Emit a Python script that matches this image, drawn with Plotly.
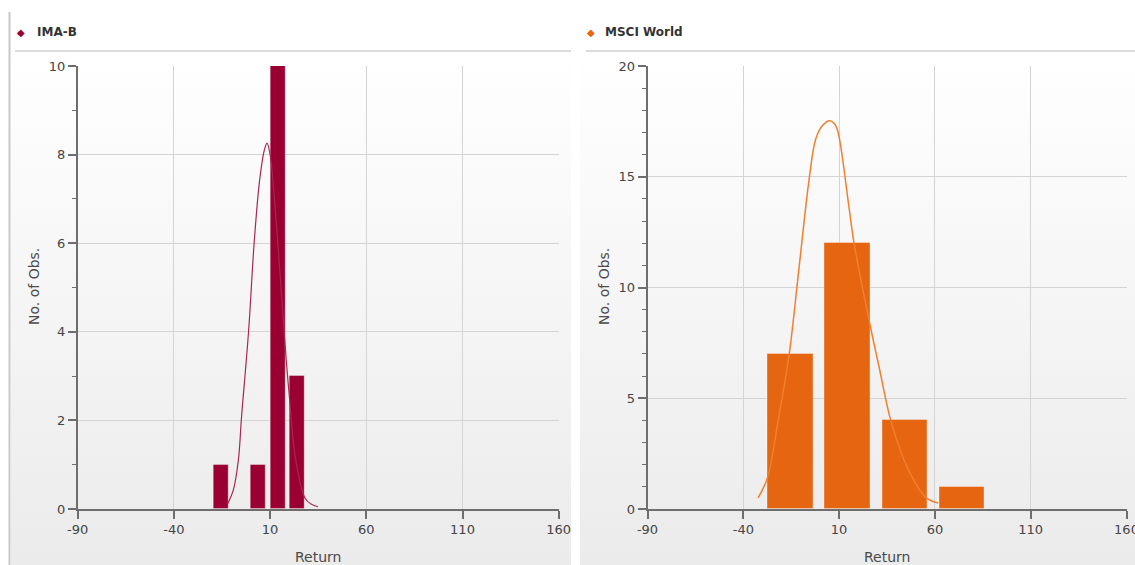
import base64
import plotly.graph_objects as go

# ---------------- data ----------------
ima_bin_centers = [-15.5, 3.8, 14.2, 24.2]
ima_counts = [1, 1, 10, 3]
ima_bar_width = 8.0
ima_curve_x = [-12.0, -9.1, -6.5, -4.8, -1.2, 1.7, 4.5, 7.0, 8.4, 10.0, 14.0, 18.3, 20.3, 23.0, 28.1, 31.0, 34.9]
ima_curve_y = [0.12, 0.43, 1.1, 2.1, 4.0, 6.0, 7.4, 8.1, 8.26, 8.0, 6.0, 3.4, 2.4, 1.2, 0.25, 0.12, 0.05]

msci_bin_centers = [-15.4, 14.4, 44.3, 74.0]
msci_counts = [7, 12, 4, 1]
msci_bar_width = 23.7
msci_curve_x = [-32.3, -27.4, -22.0, -16.1, -10.9, -5.7, -2.2, 1.2, 5.1, 8.3, 10.0, 15.2, 17.8, 25.7, 30.9, 37.0, 46.0, 55.6, 61.7]
msci_curve_y = [0.5, 1.4, 3.9, 6.95, 10.9, 14.85, 16.7, 17.3, 17.53, 17.3, 16.8, 13.6, 12.0, 8.5, 6.4, 4.0, 1.8, 0.5, 0.27]

x_ticks = [-90, -40, 10, 60, 110, 160]
titles = ["IMA-B", "MSCI World"]
x_title = "Return"
y_title = "No. of Obs."

IMA_COLOR = "#9b0032"
IMA_LINE = "#a8264f"
MSCI_COLOR = "#e66511"
MSCI_LINE = "#f07f2f"

W, H = 1135, 565


def px(x):
    return x / W


def py(y):
    return 1 - y / H


FONT = "DejaVu Sans"

fig = go.Figure()

# curves first (drawn beneath bars)
fig.add_trace(go.Scatter(x=ima_curve_x, y=ima_curve_y, mode="lines",
                         line=dict(color=IMA_LINE, width=1.2, shape="spline", smoothing=1.0),
                         xaxis="x", yaxis="y", hoverinfo="skip", showlegend=False))
fig.add_trace(go.Scatter(x=msci_curve_x, y=msci_curve_y, mode="lines",
                         line=dict(color=MSCI_LINE, width=1.5, shape="spline", smoothing=1.0),
                         xaxis="x2", yaxis="y2", hoverinfo="skip", showlegend=False))

fig.add_trace(go.Bar(x=ima_bin_centers, y=ima_counts, width=ima_bar_width,
                     marker=dict(color=IMA_COLOR, line=dict(color="rgba(255,255,255,0.35)", width=1)),
                     xaxis="x", yaxis="y", showlegend=False))
fig.add_trace(go.Bar(x=msci_bin_centers, y=msci_counts, width=msci_bar_width,
                     marker=dict(color=MSCI_COLOR, line=dict(color="rgba(255,255,255,0.35)", width=1)),
                     xaxis="x2", yaxis="y2", showlegend=False))

AX_COLOR = "#6e6e6e"
GRID = "#d4d4d4"
TICKFONT = dict(family=FONT, size=13, color="#444444")

xcommon = dict(range=[-90, 160], tickmode="array", tickvals=x_ticks, ticktext=[str(t) for t in x_ticks],
               showline=True, linecolor=AX_COLOR, linewidth=1.5, ticks="outside", ticklen=8,
               tickcolor=AX_COLOR, tickwidth=1.5, showgrid=True, gridcolor=GRID, gridwidth=1,
               zeroline=False, tickfont=TICKFONT, fixedrange=True, automargin=False,
               ticklabeloverflow="allow")
ycommon = dict(showline=True, linecolor=AX_COLOR, linewidth=1.5, ticks="outside", ticklen=8,
               tickcolor=AX_COLOR, tickwidth=1.5, showgrid=True, gridcolor=GRID, gridwidth=1,
               zeroline=False, tickfont=TICKFONT, fixedrange=True, automargin=False,
               minor=dict(dtick=1, ticks="outside", ticklen=4, tickcolor=AX_COLOR, tickwidth=1, showgrid=False))

ydom = [py(509), py(66)]

fig.update_layout(
    width=W, height=H, autosize=False,
    margin=dict(l=0, r=0, t=0, b=0, pad=0, autoexpand=False),
    paper_bgcolor="white",
    plot_bgcolor="rgba(0,0,0,0)",
    showlegend=False,
    bargap=0,
    xaxis=dict(domain=[px(77.7), px(558.7)], anchor="y", **xcommon),
    yaxis=dict(domain=ydom, anchor="x", range=[0, 10], dtick=2, tick0=0, **ycommon),
    xaxis2=dict(domain=[px(647.5), px(1126.5)], anchor="y2", **xcommon),
    yaxis2=dict(domain=ydom, anchor="x2", range=[0, 20], dtick=5, tick0=0, **ycommon),
)


def grad_svg():
    svg = ('<svg xmlns="http://www.w3.org/2000/svg" width="100" height="100" viewBox="0 0 100 100" '
           'preserveAspectRatio="none"><defs><linearGradient id="g" x1="0" y1="0" x2="0" y2="1">'
           '<stop offset="0" stop-color="#ffffff"/><stop offset="1" stop-color="#ebebeb"/>'
           '</linearGradient></defs><rect x="0" y="0" width="100" height="100" fill="url(#g)"/></svg>')
    return "data:image/svg+xml;base64," + base64.b64encode(svg.encode()).decode()


src = grad_svg()
panels = [(11, 571), (580, 1135)]
images = []
for (x0, x1) in panels:
    images.append(dict(source=src, xref="paper", yref="paper", x=px(x0), y=py(52),
                       sizex=px(x1) - px(x0), sizey=(H - 52) / H, xanchor="left", yanchor="top",
                       sizing="stretch", layer="below"))
fig.update_layout(images=images)

shapes = [
    dict(type="line", xref="paper", yref="paper", x0=px(9.5), x1=px(9.5), y0=py(12), y1=0,
         line=dict(color="#c8c8c8", width=2)),
    dict(type="line", xref="paper", yref="paper", x0=px(15), x1=px(571), y0=py(51), y1=py(51),
         line=dict(color="#cfcfcf", width=1.5)),
    dict(type="line", xref="paper", yref="paper", x0=px(586), x1=px(1135), y0=py(51), y1=py(51),
         line=dict(color="#cfcfcf", width=1.5)),
]
fig.update_layout(shapes=shapes)

annotations = []
for xm, xt, color, title in [(21, 35, IMA_COLOR, titles[0]), (591, 603, MSCI_COLOR, titles[1])]:
    annotations.append(dict(text="◆", x=px(xm), y=py(32), xref="paper", yref="paper",
                            showarrow=False, xanchor="center", yanchor="middle",
                            font=dict(family=FONT, size=10, color=color)))
    annotations.append(dict(text="<b>" + title + "</b>", x=px(xt), y=py(32), xref="paper", yref="paper",
                            showarrow=False, xanchor="left", yanchor="middle",
                            font=dict(family=FONT, size=12, color="#333333")))
for xc, yx in [(318, 34), (887, 604)]:
    annotations.append(dict(text=x_title, x=px(xc), y=py(557), xref="paper", yref="paper",
                            showarrow=False, xanchor="center", yanchor="middle",
                            font=dict(family=FONT, size=14, color="#4a4a4a")))
    annotations.append(dict(text=y_title, x=px(yx), y=py(287), xref="paper", yref="paper",
                            showarrow=False, xanchor="center", yanchor="middle", textangle=-90,
                            font=dict(family=FONT, size=14, color="#4a4a4a")))
fig.update_layout(annotations=annotations)

fig.write_html("out.html", config={"responsive": False, "displayModeBar": False},
               post_script="document.body.style.margin='0';document.body.style.overflow='hidden';")
